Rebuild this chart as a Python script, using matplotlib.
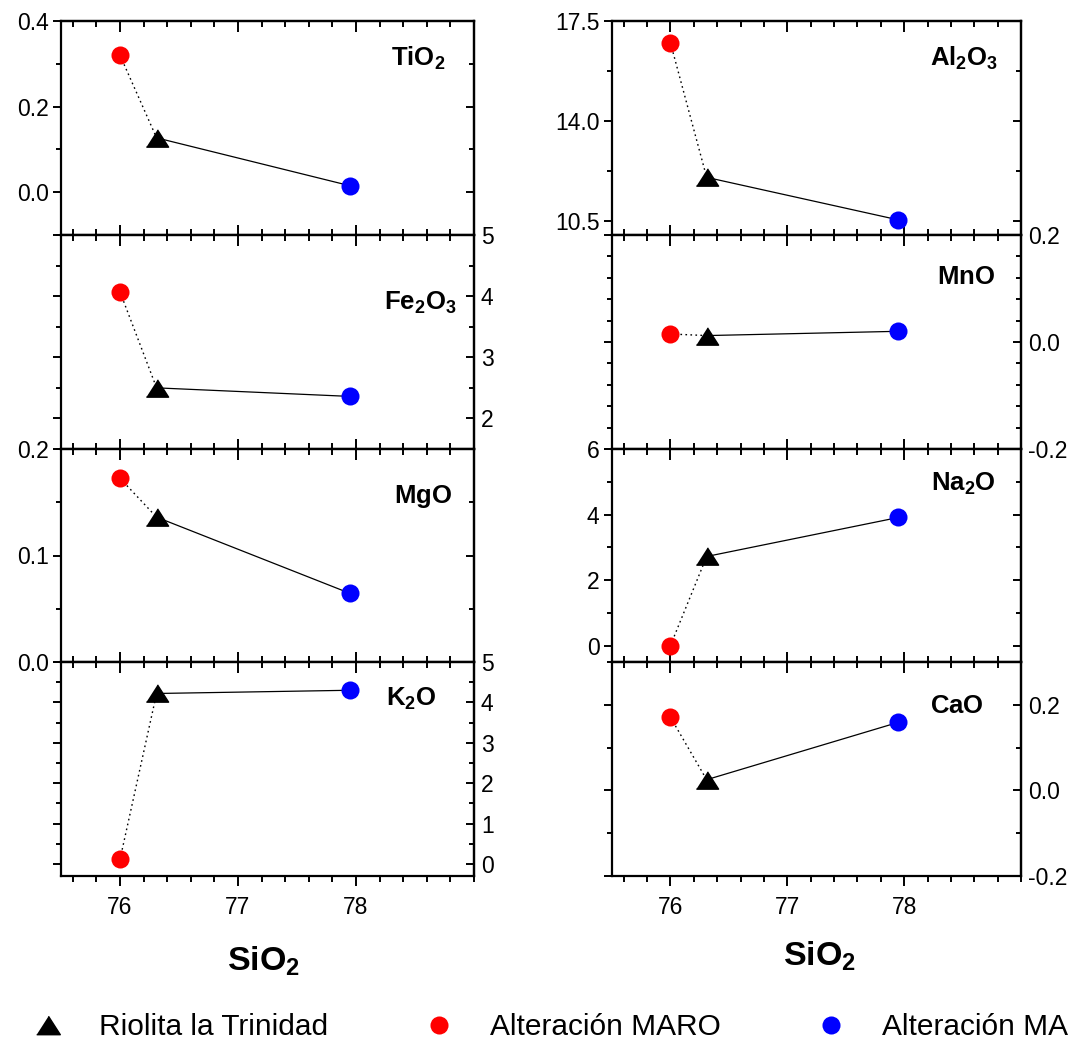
import matplotlib
matplotlib.use('Agg')
import matplotlib.pyplot as plt
from matplotlib.ticker import MultipleLocator, FixedLocator, FormatStrFormatter
from matplotlib.lines import Line2D

plt.rcParams['font.family'] = ['Liberation Sans', 'DejaVu Sans']
plt.rcParams['mathtext.fontset'] = 'custom'
plt.rcParams['mathtext.rm'] = 'Liberation Sans'
plt.rcParams['mathtext.bf'] = 'Liberation Sans:bold'
plt.rcParams['axes.unicode_minus'] = False

# SiO2 of each sample (x axis)
sio2_riolita = 76.31
sio2_maro = 76.0
sio2_ma = 77.95

# oxides, in panel order: left column top->bottom, then right column
oxides = ['TiO2', 'Fe2O3', 'MgO', 'K2O', 'Al2O3', 'MnO', 'Na2O', 'CaO']
labels = [r'$\mathbf{TiO_2}$', r'$\mathbf{Fe_2O_3}$', r'$\mathbf{MgO}$',
          r'$\mathbf{K_2O}$', r'$\mathbf{Al_2O_3}$', r'$\mathbf{MnO}$',
          r'$\mathbf{Na_2O}$', r'$\mathbf{CaO}$']
riolita = [0.127, 2.50, 0.136, 4.22, 12.02, 0.012, 2.72, 0.025]
maro = [0.32, 4.07, 0.1725, 0.11, 16.74, 0.015, 0.0, 0.171]
ma = [0.015, 2.36, 0.0644, 4.30, 10.53, 0.020, 3.91, 0.159]

legend_names = ['Riolita la Trinidad', 'Alteración MARO', 'Alteración MA']

# axis setup per panel: ylim, major, minor, tick format, label side
ylims = [(-0.1, 0.4), (1.5, 5), (0, 0.2), (-0.3, 5),
         (10.0, 17.5), (-0.2, 0.2), (-0.5, 6), (-0.2, 0.3)]
majors = [0.2, 1, 0.1, 1, 3.5, 0.2, 2, 0.2]
minors = [0.1, 0.5, 0.05, 0.5, 1.75, 0.04, 1, 0.1]
fmts = ['%.1f', '%d', '%.1f', '%d', '%.1f', '%.1f', '%d', '%.1f']
sides = ['left', 'right', 'left', 'right', 'left', 'right', 'left', 'right']
# label anchor (axes fraction): right edge, baseline
lab_xy = [(0.93, 0.79), (0.958, 0.652), (0.948, 0.748), (0.91, 0.794),
          (0.945, 0.789), (0.936, 0.769), (0.939, 0.803), (0.909, 0.763)]

W, H = 1088, 1044
col_x = [61, 612]
col_w = [413, 409]
tops = [21, 235, 449, 662, 876]

tri = [(-1, -0.78), (1, -0.78), (0, 0.78)]
tick_fs = 16.5

fig = plt.figure(figsize=(W / 100, H / 100), dpi=100)

for i, name in enumerate(oxides):
    col, row = i // 4, i % 4
    y0 = 1 - tops[row + 1] / H
    h = (tops[row + 1] - tops[row]) / H
    ax = fig.add_axes([col_x[col] / W, y0, col_w[col] / W, h])

    ax.plot([sio2_maro, sio2_riolita], [maro[i], riolita[i]], ls=(0, (1.2, 2.4)),
            color='k', lw=1.0, zorder=2)
    ax.plot([sio2_riolita, sio2_ma], [riolita[i], ma[i]], ls='-', color='k',
            lw=0.9, zorder=2)
    ax.plot(sio2_riolita, riolita[i], marker=tri, ms=16, color='k', ls='none', zorder=3)
    ax.plot(sio2_maro, maro[i], marker='o', ms=13, color='#ff0000', mec='none',
            ls='none', zorder=3)
    ax.plot(sio2_ma, ma[i], marker='o', ms=13, color='#0000ff', mec='none',
            ls='none', zorder=3)

    ax.set_xlim(75.5, 79)
    ax.set_ylim(*ylims[i])
    for s in ax.spines.values():
        s.set_linewidth(1.6)

    # x ticks: bottom on ax, top through a secondary axis (always inward)
    ax.xaxis.set_major_locator(FixedLocator([76, 77, 78]))
    ax.xaxis.set_minor_locator(MultipleLocator(0.2))
    last = (row == 3)
    ax.tick_params(axis='x', which='both', top=False, bottom=True,
                   direction='out' if last else 'in', width=1.4,
                   labelbottom=last, labelsize=tick_fs, pad=7)
    ax.tick_params(axis='x', which='major', length=7.5)
    ax.tick_params(axis='x', which='minor', length=4)
    secx = ax.secondary_xaxis('top')
    secx.xaxis.set_major_locator(FixedLocator([76, 77, 78]))
    secx.xaxis.set_minor_locator(MultipleLocator(0.2))
    secx.tick_params(axis='x', which='both', direction='in', width=1.4, labeltop=False)
    secx.tick_params(axis='x', which='major', length=8)
    secx.tick_params(axis='x', which='minor', length=4.5)
    secx.spines['top'].set_linewidth(1.6)

    # y ticks: left outward, right inward
    ax.yaxis.set_major_locator(MultipleLocator(majors[i]))
    ax.yaxis.set_minor_locator(MultipleLocator(minors[i]))
    ax.yaxis.set_major_formatter(FormatStrFormatter(fmts[i]))
    ax.tick_params(axis='y', which='both', left=True, right=False, direction='out',
                   width=1.4, labelleft=(sides[i] == 'left'), labelsize=tick_fs, pad=3)
    ax.tick_params(axis='y', which='major', length=6)
    ax.tick_params(axis='y', which='minor', length=3.5)
    secy = ax.secondary_yaxis('right')
    secy.yaxis.set_major_locator(MultipleLocator(majors[i]))
    secy.yaxis.set_minor_locator(MultipleLocator(minors[i]))
    secy.yaxis.set_major_formatter(FormatStrFormatter(fmts[i]))
    secy.tick_params(axis='y', which='both', direction='in', width=1.4,
                     labelright=(sides[i] == 'right'), labelsize=tick_fs, pad=5)
    secy.tick_params(axis='y', which='major', length=6)
    secy.tick_params(axis='y', which='minor', length=3.5)
    secy.spines['right'].set_linewidth(1.6)

    ax.text(lab_xy[i][0], lab_xy[i][1], labels[i], transform=ax.transAxes,
            ha='right', va='baseline', fontsize=18.5)

    if last:
        ax.set_xlabel(r'$\mathbf{SiO_2}$', fontsize=24.5)
        ax.xaxis.set_label_coords(0.49 if col == 0 else 0.508,
                                  -0.322 if col == 0 else -0.299)
        ax.xaxis.label.set_va('top')

handles = [
    Line2D([], [], marker=tri, ms=17, color='k', ls='none'),
    Line2D([], [], marker='o', ms=13, color='#ff0000', mec='none', ls='none'),
    Line2D([], [], marker='o', ms=13, color='#0000ff', mec='none', ls='none'),
]
fig.legend(handles, legend_names, loc='center', ncol=3, frameon=False,
           bbox_to_anchor=(0.506, 1 - 1027 / H), fontsize=21.5,
           handlelength=1.0, handletextpad=1.2, columnspacing=3.2,
           borderaxespad=0, borderpad=0)

fig.savefig('out.png', dpi=100)
